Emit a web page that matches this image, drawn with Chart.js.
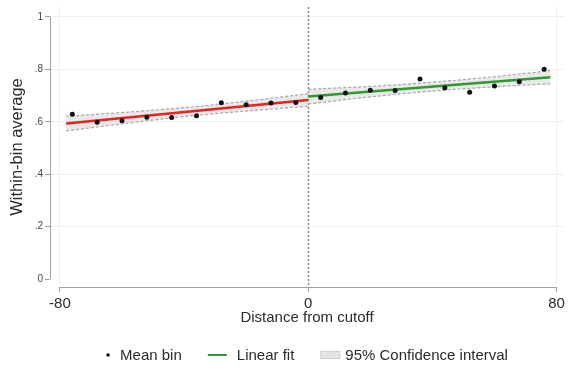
<!DOCTYPE html>
<html>
<head>
<meta charset="utf-8">
<script src="https://cdn.jsdelivr.net/npm/chart.js@4.4.1/dist/chart.umd.min.js"></script>
<style>
  html, body { margin: 0; padding: 0; background: #fff; }
</style>
</head>
<body>
<canvas id="rdChart" width="568" height="371"></canvas>
<script>
// bin means, 8 units wide, on each side of the cutoff
const leftBinX = [-76, -68, -60, -52, -44, -36, -28, -20, -12, -4];
const leftBinY = [0.629, 0.598, 0.604, 0.617, 0.616, 0.623, 0.673, 0.665, 0.672, 0.674];
const rightBinX = [4, 12, 20, 28, 36, 44, 52, 60, 68, 76];
const rightBinY = [0.693, 0.710, 0.720, 0.719, 0.763, 0.730, 0.713, 0.737, 0.753, 0.800];

// linear fit, ends of each side
const leftFitX = [-78, 0];
const leftFitY = [0.593, 0.683];
const rightFitX = [0, 78];
const rightFitY = [0.696, 0.770];

// 95% confidence bounds
const leftCiX = [-78, -58, -39, -19, 0];
const leftCiLow = [0.565, 0.595, 0.621, 0.642, 0.659];
const leftCiHigh = [0.621, 0.637, 0.655, 0.680, 0.707];
const rightCiX = [0, 20, 39, 58, 78];
const rightCiLow = [0.668, 0.695, 0.716, 0.732, 0.745];
const rightCiHigh = [0.724, 0.735, 0.750, 0.770, 0.795];

const cutoff = 0;
const xTicks = [-80, 0, 80];
const yTicks = [0, 0.2, 0.4, 0.6, 0.8, 1];
const yTickLabels = ['0', '.2', '.4', '.6', '.8', '1'];
const legendLabels = ['Mean bin', 'Linear fit', '95% Confidence interval'];

const FONT = '"Liberation Sans", Arial, sans-serif';
const TEXT = '#2b2b2b';
const RED = '#e8231e';
const GREEN = '#2f9a2f';
const CI_FILL = 'rgba(200,200,200,0.4)';
const CI_LINE = '#a9a9a9';

function toPoints(xs, ys) {
    return xs.map((x, i) => ({ x: x, y: ys[i] }));
}

function ciLine(xs, ys, fill) {
    return {
        data: toPoints(xs, ys),
        showLine: true,
        borderColor: CI_LINE,
        borderWidth: 1.2,
        borderDash: [3, 2],
        backgroundColor: CI_FILL,
        pointRadius: 0,
        tension: 0.4,
        cubicInterpolationMode: 'monotone',
        fill: fill
    };
}

// axis lines, cutoff line
const axesPlugin = {
    id: 'axesPlugin',
    beforeDatasetsDraw(chart) {
        const ctx = chart.ctx;
        const area = chart.chartArea;
        const x = chart.scales.x;
        const y = chart.scales.y;
        ctx.save();
        const cx = Math.round(x.getPixelForValue(cutoff)) + 0.5;
        ctx.strokeStyle = '#8c8c8c';
        ctx.lineWidth = 1.5;
        ctx.setLineDash([2, 2]);
        ctx.beginPath();
        ctx.moveTo(cx, area.top);
        ctx.lineTo(cx, area.bottom);
        ctx.stroke();

        ctx.setLineDash([]);
        ctx.strokeStyle = '#a0a0a0';
        ctx.lineWidth = 1;
        ctx.beginPath();
        ctx.moveTo(area.left + 0.5, y.getPixelForValue(yTicks[0]));
        ctx.lineTo(area.left + 0.5, y.getPixelForValue(yTicks[yTicks.length - 1]));
        ctx.moveTo(x.getPixelForValue(xTicks[0]), area.bottom + 0.5);
        ctx.lineTo(x.getPixelForValue(xTicks[xTicks.length - 1]), area.bottom + 0.5);
        ctx.stroke();
        ctx.restore();
    }
};

// legend in Stata style below the axis title
const legendPlugin = {
    id: 'legendPlugin',
    afterDraw(chart) {
        const ctx = chart.ctx;
        const area = chart.chartArea;
        ctx.save();
        ctx.font = '15px ' + FONT;
        ctx.textBaseline = 'middle';
        ctx.fillStyle = TEXT;
        const symbolW = [4, 19, 20];
        const gapW = [10, 10, 5];
        const itemGap = 26;
        const textW = legendLabels.map(t => ctx.measureText(t).width);
        let total = itemGap * (legendLabels.length - 1);
        for (let i = 0; i < legendLabels.length; i++) total += symbolW[i] + gapW[i] + textW[i];
        let px = (area.left + area.right) / 2 - total / 2;
        const cy = 355;
        for (let i = 0; i < legendLabels.length; i++) {
            if (i === 0) {
                ctx.fillStyle = '#111';
                ctx.beginPath();
                ctx.arc(px + 2, cy, 1.8, 0, Math.PI * 2);
                ctx.fill();
            } else if (i === 1) {
                ctx.strokeStyle = GREEN;
                ctx.lineWidth = 2;
                ctx.beginPath();
                ctx.moveTo(px, cy);
                ctx.lineTo(px + symbolW[i], cy);
                ctx.stroke();
            } else {
                ctx.fillStyle = '#e4e4e4';
                ctx.fillRect(px, cy - 4, symbolW[i], 8);
                ctx.strokeStyle = '#c4c4c4';
                ctx.lineWidth = 1;
                ctx.setLineDash([2, 1]);
                ctx.strokeRect(px + 0.5, cy - 3.5, symbolW[i] - 1, 7);
                ctx.setLineDash([]);
            }
            px += symbolW[i] + gapW[i];
            ctx.fillStyle = TEXT;
            ctx.fillText(legendLabels[i], px, cy + 1);
            px += textW[i] + itemGap;
        }
        ctx.restore();
    }
};

const ctx = document.getElementById('rdChart').getContext('2d');
const rdChart = new Chart(ctx, {
    type: 'scatter',
    data: {
        datasets: [
            {
                data: toPoints(leftBinX, leftBinY),
                backgroundColor: '#111',
                borderWidth: 0,
                pointRadius: 2.5
            },
            {
                data: toPoints(rightBinX, rightBinY),
                backgroundColor: '#111',
                borderWidth: 0,
                pointRadius: 2.5
            },
            {
                data: toPoints(leftFitX, leftFitY),
                showLine: true,
                borderColor: RED,
                borderWidth: 2.5,
                pointRadius: 0
            },
            {
                data: toPoints(rightFitX, rightFitY),
                showLine: true,
                borderColor: GREEN,
                borderWidth: 2.5,
                pointRadius: 0
            },
            ciLine(leftCiX, leftCiLow, false),
            ciLine(leftCiX, leftCiHigh, '-1'),
            ciLine(rightCiX, rightCiLow, false),
            ciLine(rightCiX, rightCiHigh, '-1')
        ]
    },
    options: {
        responsive: false,
        animation: false,
        layout: {
            padding: { top: 7, right: 0, bottom: 39, left: 0 }
        },
        plugins: {
            legend: { display: false },
            tooltip: { enabled: false }
        },
        scales: {
            x: {
                type: 'linear',
                min: -83.2,
                max: 82.4,
                afterBuildTicks: scale => { scale.ticks = xTicks.map(v => ({ value: v })); },
                afterFit: scale => {
                    scale.height = 45;
                    scale.paddingLeft = 0;
                    scale.paddingRight = 0;
                },
                ticks: {
                    font: { family: FONT, size: 15 },
                    color: TEXT,
                    padding: 3,
                    maxRotation: 0,
                    autoSkip: false
                },
                grid: {
                    color: '#f1f1f1',
                    tickColor: '#a0a0a0',
                    tickLength: 5
                },
                border: { display: false },
                title: {
                    display: true,
                    text: 'Distance from cutoff',
                    font: { family: FONT, size: 15 },
                    color: TEXT,
                    padding: { top: 0, bottom: 5 }
                }
            },
            y: {
                min: -0.0305,
                max: 1.038,
                afterBuildTicks: scale => { scale.ticks = yTicks.map(v => ({ value: v })); },
                afterFit: scale => {
                    scale.width = 50;
                    scale.paddingTop = 0;
                    scale.paddingBottom = 0;
                },
                ticks: {
                    font: { family: FONT, size: 10 },
                    color: '#444',
                    padding: 2,
                    callback: value => yTickLabels[yTicks.indexOf(value)]
                },
                grid: {
                    color: c => (c.tick && c.tick.value === 0) ? 'rgba(0,0,0,0)' : '#efefef',
                    tickColor: '#a0a0a0',
                    tickLength: 5
                },
                border: { display: false },
                title: {
                    display: true,
                    text: 'Within-bin average',
                    font: { family: FONT, size: 16.5 },
                    color: TEXT,
                    padding: { top: 8, bottom: 0 }
                }
            }
        }
    },
    plugins: [axesPlugin, legendPlugin]
});
</script>
</body>
</html>
